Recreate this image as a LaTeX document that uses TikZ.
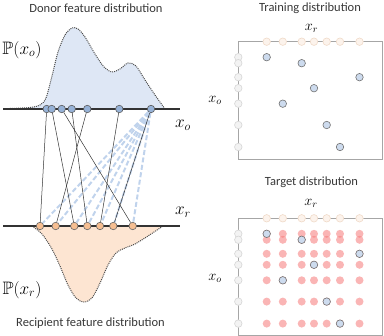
\documentclass[tikz,border=0pt]{standalone}
\usepackage{amssymb}
\usepackage{fontspec}
\setsansfont{Carlito}
\usepackage{xcolor}
\usetikzlibrary{positioning}

\definecolor{donorfill}{RGB}{222,231,245}
\definecolor{donorpt}{RGB}{150,178,215}
\definecolor{recfill}{RGB}{253,229,210}
\definecolor{recpt}{RGB}{246,190,145}
\definecolor{fanblue}{RGB}{192,211,236}
\definecolor{gridred}{RGB}{246,120,120}
\definecolor{gridblue}{RGB}{205,219,238}
\definecolor{fadeordraw}{RGB}{240,218,200}
\definecolor{fadeorfill}{RGB}{252,243,236}
\definecolor{fadegraydraw}{RGB}{214,214,214}
\definecolor{fadegrayfill}{RGB}{243,243,243}

\begin{document}
\begin{tikzpicture}[
  x=1pt, y=-1pt,
  title/.style={font=\sffamily\fontsize{12.5}{14}\selectfont, text=black!78},
  biglabel/.style={font=\fontsize{18}{20}\selectfont},
  smalllabel/.style={font=\fontsize{14}{16}\selectfont},
  donorpt/.style={circle, draw=black!65, fill=donorpt, inner sep=0pt, minimum size=7.5pt, line width=0.6pt},
  recpt/.style={circle, draw=black!60, fill=recpt, inner sep=0pt, minimum size=7.5pt, line width=0.6pt},
  fadeor/.style={circle, draw=fadeordraw, fill=fadeorfill, inner sep=0pt, minimum size=7.5pt, line width=0.6pt},
  fadegray/.style={circle, draw=fadegraydraw, fill=fadegrayfill, inner sep=0pt, minimum size=7.5pt, line width=0.6pt},
  pairpt/.style={circle, draw=black!55, fill=gridblue, inner sep=0pt, minimum size=7.5pt, line width=0.6pt},
  redpt/.style={circle, fill=gridred, fill opacity=0.55, inner sep=0pt, minimum size=8pt},
  axis/.style={line width=1.3pt, black!80},
  density/.style={densely dotted, line width=1pt, black!70},
  link/.style={line width=0.5pt, black!80},
  fan/.style={line width=2pt, fanblue, dash pattern=on 5pt off 2.5pt},
  frame/.style={line width=0.8pt, black!35}
]
  \useasboundingbox (0,0) rectangle (384,336);

  % donor density
  \fill[donorfill] plot[smooth] coordinates {(10,108.5) (30,107.5) (40,105) (46,98) (52,76) (58,52) (65,35) (72,28) (78,29) (85,37) (95,54) (104,67) (112,72) (120,69) (128,63) (136,66) (145,80) (155,95) (165,109)} -- cycle;
  \draw[density] plot[smooth] coordinates {(10,108.5) (30,107.5) (40,105) (46,98) (52,76) (58,52) (65,35) (72,28) (78,29) (85,37) (95,54) (104,67) (112,72) (120,69) (128,63) (136,66) (145,80) (155,95) (165,109)};

  % recipient density
  \fill[recfill] plot[smooth] coordinates {(32,226) (42,234) (52,249) (60,266) (68,285) (76,298) (84,302) (92,298) (100,283) (108,265) (116,253) (125,248) (135,244) (148,236) (163,226)} -- cycle;
  \draw[density] plot[smooth] coordinates {(32,226) (42,234) (52,249) (60,266) (68,285) (76,298) (84,302) (92,298) (100,283) (108,265) (116,253) (125,248) (135,244) (148,236) (163,226)};

  \draw[axis] (3,109) -- (180,109);
  \draw[axis] (3,226) -- (180,226);

  \foreach \x [count=\i] in {46.7,51.7,61.7,71.7,87.3,119.3,151}
    \node[donorpt] (d\i) at (\x,109) {};
  \foreach \x [count=\i] in {40,55.7,74.3,87.3,100,113.3,132.7}
    \node[recpt] (r\i) at (\x,226) {};

  \foreach \b in {1,...,7}
    \draw[fan] (d7) -- (r\b);
  \foreach \a/\b in {1/1,2/3,3/7,4/4,5/2,6/5,7/6}
    \draw[link] (d\a) -- (r\b);

  \node[title] (dtitle) at (96,8) {Donor feature distribution};
  \node[title] (rtitle) at (90.5,323) {Recipient feature distribution};
  \node[biglabel] (po) at (22,50) {$\mathbb{P}(x_o)$};
  \node[biglabel] (pr) at (22,290) {$\mathbb{P}(x_r)$};
  \node[biglabel] (xo) at (183,125) {$x_o$};
  \node[biglabel] (xr) at (183,212) {$x_r$};

  % training distribution
  \node[title] (ttitle) at (310,8) {Training distribution};
  \node[smalllabel] (txr) at (311.5,28) {$x_r$};
  \node[smalllabel] (txo) at (215,100) {$x_o$};
  \draw[frame] (238.3,41.7) rectangle (382.7,159.3);

  % target distribution
  \node[title] (gtitle) at (311.5,182) {Target distribution};
  \node[smalllabel] (gxr) at (311,203.3) {$x_r$};
  \node[smalllabel] (gxo) at (215,278) {$x_o$};
  \draw[frame] (238.3,218.3) rectangle (382.7,335);

  \foreach \c [count=\i] in {266.7,282.8,301.7,314,326.7,340,359.5} {
    \node[fadeor] (ta\i) at (\c,41.7) {};
    \node[fadeor] (ga\i) at (\c,218.3) {};
  }
  \foreach \r [count=\j] in {15.5,21.5,35.5,46.5,62,83.3,105.3} {
    \node[fadegray] (tb\j) at (238.3,41.7+\r) {};
    \node[fadegray] (gb\j) at (238.3,218.3+\r) {};
    \foreach \c [count=\i] in {266.7,282.8,301.7,314,326.7,340,359.5}
      \node[redpt] (g\i-\j) at (\c,218.3+\r) {};
  }

  \foreach \i/\j in {1/1,3/2,7/3,4/4,2/5,5/6,6/7} {
    \node[pairpt] at (ta\i |- tb\j) {};
    \node[pairpt] at (ga\i |- gb\j) {};
  }
\end{tikzpicture}
\end{document}
